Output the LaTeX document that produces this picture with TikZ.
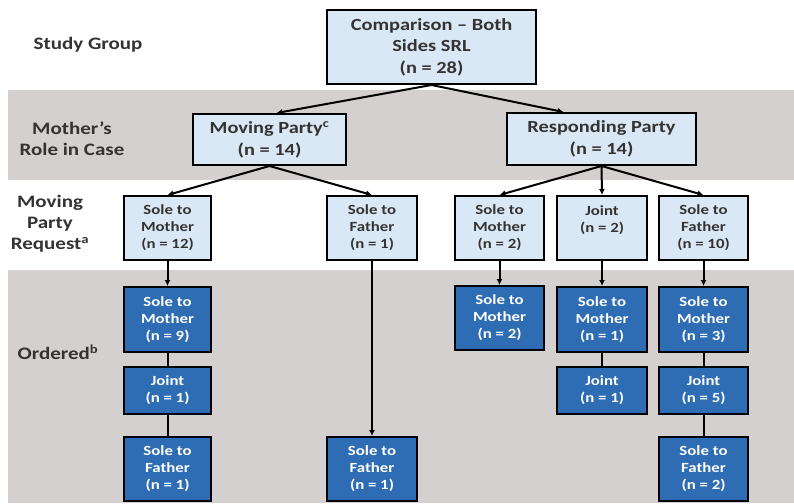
\documentclass[tikz,border=0pt]{standalone}
\usepackage{fontspec}
\setmainfont{Carlito}[FakeStretch=1.2]
\usetikzlibrary{arrows.meta,calc}
\definecolor{paleblue}{HTML}{DAE8F5}
\definecolor{deepblue}{HTML}{2E6DB4}
\definecolor{bandgray}{HTML}{D4D0CF}
\definecolor{textgray}{HTML}{333333}
\tikzset{
  lightbox/.style={draw=black,line width=2pt,fill=paleblue,text=textgray,
    font=\bfseries\fontsize{14}{17}\selectfont,align=center,inner sep=0pt},
  darkbox/.style={lightbox,fill=deepblue,text=white},
  bigbox/.style={lightbox,font=\bfseries\fontsize{17}{21.5}\selectfont},
  rowlabel/.style={text=textgray,font=\bfseries\fontsize{17.5}{21}\selectfont,align=center},
  link/.style={line width=2pt,-{Latex[length=6pt,width=6pt]}},
  plainlink/.style={line width=2pt}
}
\begin{document}
\begin{tikzpicture}[x=1pt,y=-1pt]
    \useasboundingbox (0,0) rectangle (794,503);
    \fill[bandgray] (8,90) rectangle (794,180);
    \fill[bandgray] (8,270) rectangle (794,503);

    \node[rowlabel] (lstudy) at (88,45) {Study Group};
    \node[rowlabel] (lrole) at (72,139) {Mother's\\Role in Case};
    \node[rowlabel] (lrequest) at (50,224) {Moving\\Party\\Request\textsuperscript{a}};
    \node[rowlabel] (lordered) at (58,352) {Ordered\textsuperscript{b}};

    \node[bigbox,minimum width=209pt,minimum height=74pt] (both) at (431.5,47) {Comparison -- Both\\Sides SRL\\(n = 28)};
    \node[bigbox,minimum width=153pt,minimum height=51pt] (moving) at (269.5,139.5) {Moving Party\textsuperscript{c}\\(n = 14)};
    \node[bigbox,minimum width=189pt,minimum height=52pt] (responding) at (601.5,139) {Responding Party\\(n = 14)};

    \node[lightbox,minimum width=87pt,minimum height=64pt] (rqmotherA) at (167.5,228) {Sole to\\Mother\\(n = 12)};
    \node[lightbox,minimum width=90pt,minimum height=64pt] (rqfatherA) at (372,228) {Sole to\\Father\\(n = 1)};
    \node[lightbox,minimum width=89pt,minimum height=64pt] (rqmotherB) at (499.5,228) {Sole to\\Mother\\(n = 2)};
    \node[lightbox,minimum width=90pt,minimum height=64pt] (rqjointB) at (602,228) {Joint\\(n = 2)\\\mbox{}};
    \node[lightbox,minimum width=89pt,minimum height=64pt] (rqfatherB) at (703.5,228) {Sole to\\Father\\(n = 10)};

    \node[darkbox,minimum width=87pt,minimum height=65pt] (odmotherA) at (167.5,319.5) {Sole to\\Mother\\(n = 9)};
    \node[darkbox,minimum width=87pt,minimum height=47pt] (odjointA) at (167.5,390.5) {Joint\\(n = 1)};
    \node[darkbox,minimum width=87pt,minimum height=64pt] (odfatherA) at (167.5,469) {Sole to\\Father\\(n = 1)};
    \node[darkbox,minimum width=90pt,minimum height=64pt] (odfatherB) at (372,469) {Sole to\\Father\\(n = 1)};
    \node[darkbox,minimum width=89pt,minimum height=64pt] (odmotherC) at (499.5,318) {Sole to\\Mother\\(n = 2)};
    \node[darkbox,minimum width=90pt,minimum height=65pt] (odmotherD) at (602,319.5) {Sole to\\Mother\\(n = 1)};
    \node[darkbox,minimum width=90pt,minimum height=47pt] (odjointD) at (602,390.5) {Joint\\(n = 1)};
    \node[darkbox,minimum width=89pt,minimum height=65pt] (odmotherE) at (703.5,319.5) {Sole to\\Mother\\(n = 3)};
    \node[darkbox,minimum width=89pt,minimum height=47pt] (odjointE) at (703.5,390.5) {Joint\\(n = 5)};
    \node[darkbox,minimum width=89pt,minimum height=64pt] (odfatherE) at (703.5,469) {Sole to\\Father\\(n = 2)};

    \draw[link] (both.south) -- ($(moving.north)+(7,0)$);
    \draw[link] (both.south) -- ($(responding.north)+(-38,0)$);
    \draw[link] (moving.south) -- (rqmotherA.north);
    \draw[link] (moving.south) -- (rqfatherA.north);
    \draw[link] (responding.south) -- (rqmotherB.north);
    \draw[link] (responding.south) -- (rqjointB.north);
    \draw[link] (responding.south) -- (rqfatherB.north);

    \draw[link] (rqmotherA) -- (odmotherA);
    \draw[link] (rqfatherA) -- (odfatherB);
    \draw[link] (rqmotherB) -- (odmotherC);
    \draw[link] (rqjointB) -- (odmotherD);
    \draw[link] (rqfatherB) -- (odmotherE);

    \draw[plainlink] (odmotherA) -- (odjointA) -- (odfatherA);
    \draw[plainlink] (odmotherD) -- (odjointD);
    \draw[plainlink] (odmotherE) -- (odjointE) -- (odfatherE);
\end{tikzpicture}
\end{document}
